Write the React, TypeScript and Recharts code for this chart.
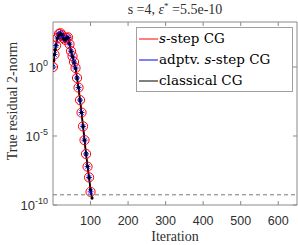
import React from 'react';
import { LineChart, Line, XAxis, YAxis, ReferenceLine, Legend } from 'recharts';

// s-step CG (every s = 4 iterations)
const sStepIter = [0, 4, 8, 12, 16, 20, 24, 28, 32, 36, 40, 44, 48, 52, 56, 60, 64, 68, 72, 76, 80, 84, 88, 92, 96, 100];
const sStepRes = [1, 8, 35, 125, 250, 280, 200, 125, 95, 125, 140, 45, 14, 6, 2.3, 0.85, 0.16, 0.032, 4e-3, 5e-4, 5e-5, 5e-6, 5e-7, 6e-8, 1e-8, 9e-10];
// adaptive s-step CG
const adaptIter = [0, 4, 8, 12, 16, 20, 24, 28, 32, 36, 40, 44, 48, 52, 56, 60, 64, 68, 72, 76, 80, 84, 88, 92, 96, 100];
const adaptRes = [1, 8, 35, 125, 250, 280, 200, 125, 95, 125, 140, 45, 14, 6, 2.3, 0.85, 0.16, 0.032, 4e-3, 5e-4, 5e-5, 5e-6, 5e-7, 6e-8, 1e-8, 9e-10];
// classical CG
const classicIter = [0, 2, 4, 6, 8, 12, 16, 20, 24, 28, 32, 36, 40, 44, 48, 52, 56, 60, 64, 68, 72, 76, 80, 84, 88, 92, 96, 100, 104];
const classicRes = [1, 3, 8, 18, 40, 125, 200, 250, 210, 115, 90, 125, 130, 50, 14, 5.6, 2.2, 0.8, 0.16, 0.032, 4e-3, 5e-4, 5e-5, 5e-6, 5e-7, 6.3e-8, 1e-8, 1.3e-9, 3.2e-10];

const epsStar = 5.5e-10;
const xTicks = [100, 200, 300, 400, 500, 600];
const yTicks = [1e-10, 1e-5, 1];
const yTickExp: Record<string, string> = { '1e-10': '-10', '0.00001': '-5', '1': '0' };

const legendItems = [
  { pre: '', ital: 's', post: '-step CG', color: '#ff0000' },
  { pre: 'adptv. ', ital: 's', post: '-step CG', color: '#0000ff' },
  { pre: 'classical CG', ital: '', post: '', color: '#000000' },
];

const toPts = (xs: number[], ys: number[]) => xs.map((x, i) => ({ x, y: ys[i] }));

const AXIS = '#8a8a8a';
const TXT = '#303030';
const SANS = "'Liberation Sans', Arial, sans-serif";
const SERIF = "'Liberation Serif', 'Times New Roman', serif";
const LEGSERIF = "'DejaVu Serif', serif";

const BottomTick = (p: any) => (
  <g>
    <line x1={p.x} x2={p.x} y1={p.y} y2={p.y - 4} stroke={AXIS} />
    <text x={p.x} y={p.y + 20} textAnchor="middle" fontSize={12.5} fontFamily={SANS} fill={TXT}>
      {p.payload.value}
    </text>
  </g>
);
const TopTick = (p: any) => <line x1={p.x} x2={p.x} y1={p.y} y2={p.y + 4} stroke={AXIS} />;
const LeftTick = (p: any) => {
  const exp = yTickExp[String(p.payload.value)] ?? '';
  return (
    <g>
      <line x1={p.x} x2={p.x + 4} y1={p.y} y2={p.y} stroke={AXIS} />
      <text x={p.x - 5} y={p.y + 5} textAnchor="end" fontFamily={SANS} fill={TXT}>
        <tspan fontSize={13}>10</tspan>
        <tspan fontSize={9} dy={-6}>{exp}</tspan>
      </text>
    </g>
  );
};
const RightTick = (p: any) => <line x1={p.x} x2={p.x - 4} y1={p.y} y2={p.y} stroke={AXIS} />;

const CircleDot = (p: any) =>
  p.cx == null ? null : <circle cx={p.cx} cy={p.cy} r={4.6} fill="none" stroke="#ff0000" strokeWidth={1} />;
const StarDot = (p: any) => {
  if (p.cx == null) return null;
  const r = 3;
  const d = 2.2;
  return (
    <g stroke="#0000ff" strokeWidth={0.9}>
      <line x1={p.cx - r} x2={p.cx + r} y1={p.cy} y2={p.cy} />
      <line x1={p.cx} x2={p.cx} y1={p.cy - r} y2={p.cy + r} />
      <line x1={p.cx - d} x2={p.cx + d} y1={p.cy - d} y2={p.cy + d} />
      <line x1={p.cx - d} x2={p.cx + d} y1={p.cy + d} y2={p.cy - d} />
    </g>
  );
};
const SmallDot = (p: any) => (p.cx == null ? null : <circle cx={p.cx} cy={p.cy} r={1.6} fill="#000" />);

const LegendBox = () => (
  <div
    style={{
      border: '1px solid #a0a0a0',
      background: '#fff',
      boxSizing: 'border-box',
      width: 157,
      height: 65,
      padding: '0 0 0 2px',
      fontFamily: LEGSERIF,
      fontSize: 13.5,
      lineHeight: '21px',
      color: '#000',
    }}
  >
    {legendItems.map((it) => (
      <div key={it.pre + it.post} style={{ display: 'flex', alignItems: 'center', height: 21, whiteSpace: 'nowrap' }}>
        <svg width={19} height={10} style={{ marginRight: 1 }}>
          <line x1={0} x2={19} y1={5} y2={5} stroke={it.color} strokeWidth={1} />
        </svg>
        <span style={{ fontFamily: LEGSERIF }}>
          {it.pre}
          {it.ital ? <i>{it.ital}</i> : null}
          {it.post}
        </span>
      </div>
    ))}
  </div>
);

export default function App() {
  return (
    <div style={{ position: 'absolute', left: 0, top: 0, width: 298, height: 245, background: '#fff' }}>
      <LineChart width={298} height={245} margin={{ top: 21, right: 0, bottom: 10, left: 8 }}>
        <XAxis
          xAxisId="b"
          type="number"
          dataKey="x"
          domain={[0, 650]}
          ticks={xTicks}
          allowDataOverflow
          height={30}
          tickSize={0}
          tickMargin={0}
          tickLine={false}
          tick={<BottomTick />}
          stroke={AXIS}
        />
        <XAxis
          xAxisId="t"
          orientation="top"
          type="number"
          dataKey="x"
          domain={[0, 650]}
          ticks={xTicks}
          allowDataOverflow
          height={1}
          tickSize={0}
          tickMargin={0}
          tickLine={false}
          tick={<TopTick />}
          stroke={AXIS}
        />
        <YAxis
          yAxisId="l"
          type="number"
          scale="log"
          domain={[1e-10, 1820]}
          ticks={yTicks}
          allowDataOverflow
          width={45}
          tickSize={0}
          tickMargin={0}
          tickLine={false}
          tick={<LeftTick />}
          stroke={AXIS}
        />
        <YAxis
          yAxisId="r"
          orientation="right"
          type="number"
          scale="log"
          domain={[1e-10, 1820]}
          ticks={yTicks}
          allowDataOverflow
          width={1}
          tickSize={0}
          tickMargin={0}
          tickLine={false}
          tick={<RightTick />}
          stroke={AXIS}
        />
        <ReferenceLine xAxisId="b" yAxisId="l" y={epsStar} stroke="#7a7a7a" strokeDasharray="4 3" strokeWidth={1} />
        <Line
          xAxisId="b"
          yAxisId="l"
          name="s-step CG"
          data={toPts(sStepIter, sStepRes)}
          dataKey="y"
          stroke="#ff0000"
          strokeWidth={1}
          dot={<CircleDot />}
          isAnimationActive={false}
        />
        <Line
          xAxisId="b"
          yAxisId="l"
          name="adptv. s-step CG"
          data={toPts(adaptIter, adaptRes)}
          dataKey="y"
          stroke="#0000ff"
          strokeWidth={1}
          dot={<StarDot />}
          isAnimationActive={false}
        />
        <Line
          xAxisId="b"
          yAxisId="l"
          name="classical CG"
          data={toPts(classicIter, classicRes)}
          dataKey="y"
          stroke="#000000"
          strokeWidth={1.8}
          dot={<SmallDot />}
          isAnimationActive={false}
        />
        <Legend
          layout="vertical"
          align="center"
          verticalAlign="middle"
          content={<LegendBox />}
          wrapperStyle={{ left: 136, top: 27, width: 157, height: 65 }}
        />
        <text x={175} y={14} textAnchor="middle" fontFamily={SERIF} fontSize={14} fill={TXT}>
          s =4, <tspan fontStyle="italic">ε</tspan>
          <tspan dy={-5} fontSize={9}>*</tspan>
          <tspan dy={5}> =5.5e-10</tspan>
        </text>
        <text x={175} y={241} textAnchor="middle" fontFamily={SERIF} fontSize={14} fill={TXT}>
          Iteration
        </text>
        <text
          x={17}
          y={101}
          transform="rotate(-90 17 101)"
          textAnchor="middle"
          fontFamily={SERIF}
          fontSize={14}
          fill={TXT}
        >
          True residual 2-norm
        </text>
      </LineChart>
    </div>
  );
}
